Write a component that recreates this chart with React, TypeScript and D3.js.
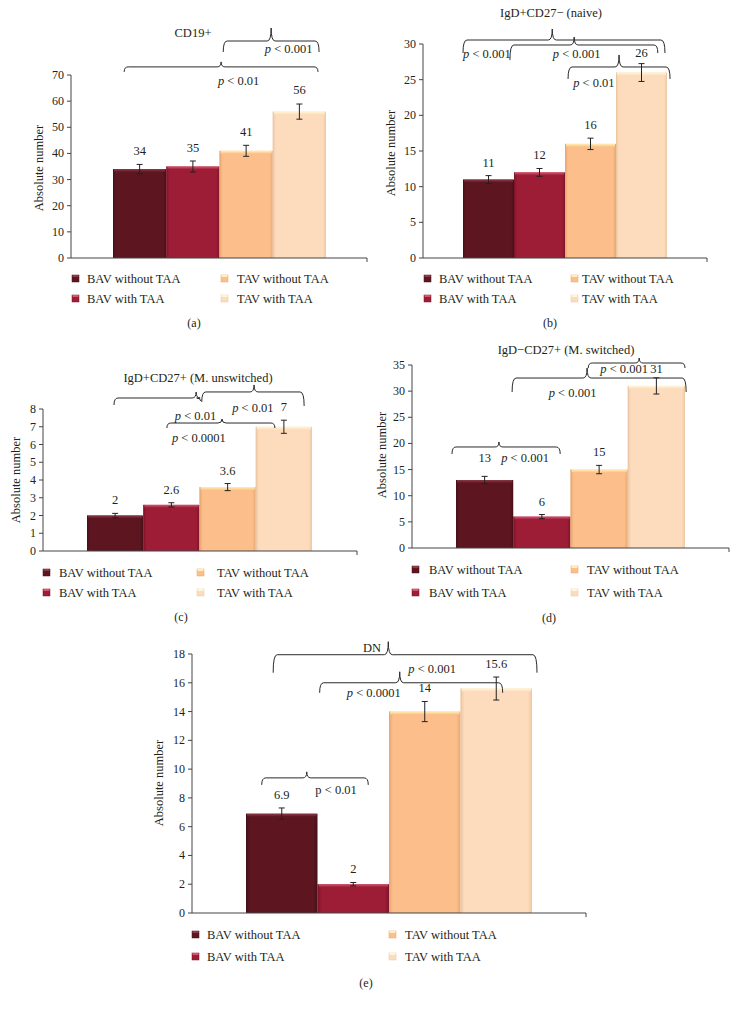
import React from "react";
import * as d3 from "d3";

// ---------- DATA ----------
const categories = ["BAV without TAA", "BAV with TAA", "TAV without TAA", "TAV with TAA"];

const cd19Values = [34, 35, 41, 56];
const cd19Errors = [1.8, 2.1, 2.1, 2.9];

const naiveValues = [11, 12, 16, 26];
const naiveErrors = [0.55, 0.55, 0.8, 1.25];

const unswitchedValues = [2, 2.6, 3.6, 7];
const unswitchedErrors = [0.12, 0.12, 0.2, 0.37];

const switchedValues = [13, 6, 15, 31];
const switchedErrors = [0.7, 0.4, 0.8, 1.55];

const dnValues = [6.9, 2, 14, 15.6];
const dnErrors = [0.4, 0.12, 0.7, 0.8];

const cd19Ticks = [0, 10, 20, 30, 40, 50, 60, 70];
const naiveTicks = [0, 5, 10, 15, 20, 25, 30];
const unswitchedTicks = [0, 1, 2, 3, 4, 5, 6, 7, 8];
const switchedTicks = [0, 5, 10, 15, 20, 25, 30, 35];
const dnTicks = [0, 2, 4, 6, 8, 10, 12, 14, 16, 18];

// ---------- STYLE ----------
const barColors = [
  { base: "#5d1620", edge: "#46101a", top: "#8c3a47" },
  { base: "#9d1c36", edge: "#7e1429", top: "#d4566f" },
  { base: "#fcbf8c", edge: "#e8a670", top: "#fff1b4" },
  { base: "#fddcbd", edge: "#ecc7a4", top: "#fff6d6" },
];
const FONT = "'Liberation Serif', 'Times New Roman', serif";
const INK = "#231f20";
const AXIS = "#444";

type Brace = { x0: number; x1: number; xm: number; y: number; dropL: number; dropR: number; rise: number };
type Note = { x: number; y: number; p: string; rest: string; italic?: boolean; anchor?: string };

const panels = [
  {
    id: "a", values: cd19Values, errors: cd19Errors, ticks: cd19Ticks,
    title: "CD19+", titleX: 193, titleY: 37,
    axisX: 71, axisRight: 367, y0: 258, yTop: 75, barLeft: 113, barRight: 326,
    labelDy: [0, 0, 0, -1],
    braces: [
      { x0: 0.21, x1: 3.85, xm: 2.03, y: 73.1, dropL: 5, dropR: 5, rise: 5 },
      { x0: 2.07, x1: 3.87, xm: 2.97, y: 83.0, dropL: 11, dropR: 11, rise: 13 },
    ] as Brace[],
    notes: [
      { x: 1.97, y: 66.2, p: "p", rest: " < 0.01", italic: true },
      { x: 2.85, y: 78.4, p: "p", rest: " < 0.001", italic: true },
    ] as Note[],
    yLabel: { x: 39, y: 168 },
    legend: { m1: 72, t1: 87, m2: 221, t2: 237, r1: 283, r2: 303 },
    caption: { text: "(a)", x: 194, y: 327 },
  },
  {
    id: "b", values: naiveValues, errors: naiveErrors, ticks: naiveTicks,
    title: "IgD+CD27− (naive)", titleX: 551, titleY: 17,
    axisX: 423, axisRight: 707, y0: 258, yTop: 44, barLeft: 463, barRight: 667,
    labelDy: [0, 0, 0, 2],
    braces: [
      { x0: 0.0, x1: 3.96, xm: 1.75, y: 30.56, dropL: 13, dropR: 13, rise: 11 },
      { x0: 0.92, x1: 3.82, xm: 2.18, y: 29.86, dropL: 15, dropR: 8, rise: 8 },
      { x0: 2.06, x1: 4.06, xm: 3.06, y: 26.78, dropL: 12, dropR: 12, rise: 12 },
    ] as Brace[],
    notes: [
      { x: 0.0, y: 28.04, p: "p", rest: " < 0.001", italic: true },
      { x: 1.76, y: 28.04, p: "p", rest: " < 0.001", italic: true },
      { x: 2.16, y: 23.97, p: "p", rest: " < 0.01", italic: true },
    ] as Note[],
    yLabel: { x: 391, y: 153 },
    legend: { m1: 424, t1: 439, m2: 571, t2: 582, r1: 283, r2: 303 },
    caption: { text: "(b)", x: 550, y: 327 },
  },
  {
    id: "c", values: unswitchedValues, errors: unswitchedErrors, ticks: unswitchedTicks,
    title: "IgD+CD27+ (M. unswitched)", titleX: 198, titleY: 382,
    axisX: 43, axisRight: 357, y0: 551, yTop: 409, barLeft: 87, barRight: 312,
    labelDy: [0, 0, 0, 0],
    braces: [
      { x0: 0.48, x1: 2.02, xm: 1.94, y: 8.62, dropL: 7, dropR: 3, rise: 6 },
      { x0: 2.04, x1: 3.86, xm: 2.97, y: 8.96, dropL: 10, dropR: 14, rise: 7 },
      { x0: 1.42, x1: 3.34, xm: 2.4, y: 7.21, dropL: 5, dropR: 5, rise: 4 },
    ] as Brace[],
    notes: [
      { x: 2.58, y: 7.83, p: "p", rest: " < 0.01", italic: true },
      { x: 1.56, y: 7.38, p: "p", rest: " < 0.01", italic: true },
      { x: 1.51, y: 6.14, p: "p", rest: " < 0.0001", italic: true },
    ] as Note[],
    yLabel: { x: 16, y: 480 },
    legend: { m1: 43, t1: 59, m2: 197, t2: 217, r1: 577, r2: 597 },
    caption: { text: "(c)", x: 181, y: 621 },
  },
  {
    id: "d", values: switchedValues, errors: switchedErrors, ticks: switchedTicks,
    title: "IgD−CD27+ (M. switched)", titleX: 566, titleY: 354,
    axisX: 412, axisRight: 729, y0: 548, yTop: 365, barLeft: 456, barRight: 685,
    labelDy: [-5, 0, 0, 4],
    braces: [
      { x0: 2.31, x1: 4.0, xm: 3.2, y: 35.38, dropL: 5, dropR: 5, rise: 5 },
      { x0: 0.98, x1: 4.02, xm: 2.29, y: 32.51, dropL: 14, dropR: 14, rise: 10 },
      { x0: -0.07, x1: 1.82, xm: 0.75, y: 19.32, dropL: 7, dropR: 7, rise: 5 },
    ] as Brace[],
    notes: [
      { x: 2.52, y: 33.47, p: "p", rest: " < 0.001", italic: true },
      { x: 1.62, y: 28.88, p: "p", rest: " < 0.001", italic: true },
      { x: 0.79, y: 16.45, p: "p", rest: " < 0.001", italic: true },
    ] as Note[],
    yLabel: { x: 382, y: 455 },
    legend: { m1: 412, t1: 429, m2: 571, t2: 587, r1: 574, r2: 597 },
    caption: { text: "(d)", x: 549, y: 622 },
  },
  {
    id: "e", values: dnValues, errors: dnErrors, ticks: dnTicks,
    title: "DN", titleX: 0, titleY: 0,
    axisX: 192, axisRight: 586, y0: 913, yTop: 654, barLeft: 246, barRight: 532,
    labelDy: [0, 0, 0, 0],
    braces: [
      { x0: 0.38, x1: 4.07, xm: 1.99, y: 17.95, dropL: 18, dropR: 18, rise: 13 },
      { x0: 1.03, x1: 3.59, xm: 2.15, y: 16.0, dropL: 10, dropR: 10, rise: 11 },
      { x0: 0.22, x1: 1.71, xm: 0.85, y: 9.39, dropL: 7, dropR: 7, rise: 6 },
    ] as Brace[],
    notes: [
      { x: 1.89, y: 18.16, p: "DN", rest: "", italic: false, anchor: "end" },
      { x: 2.27, y: 16.7, p: "p", rest: " < 0.001", italic: true },
      { x: 1.41, y: 15.03, p: "p", rest: " < 0.0001", italic: true },
      { x: 0.97, y: 8.28, p: "p", rest: " < 0.01", italic: false },
    ] as Note[],
    yLabel: { x: 159, y: 783 },
    legend: { m1: 192, t1: 207, m2: 389, t2: 405, r1: 939, r2: 961 },
    caption: { text: "(e)", x: 366, y: 987 },
  },
];

function bracePath(x0: number, x1: number, xm: number, y: number, dL: number, dR: number, rise: number) {
  const r = 4;
  return `M${x0},${y + dL} Q${x0},${y} ${x0 + r},${y} L${xm - r},${y} Q${xm},${y} ${xm},${y - rise} Q${xm},${y} ${xm + r},${y} L${x1 - r},${y} Q${x1},${y} ${x1},${y + dR}`;
}

function fmt(v: number) {
  return d3.format("~g")(v);
}

function Panel({ p }: { p: (typeof panels)[number] }) {
  const y = d3.scaleLinear().domain([0, p.ticks[p.ticks.length - 1]]).range([p.y0, p.yTop]);
  const x = d3.scaleLinear().domain([0, categories.length]).range([p.barLeft, p.barRight]);
  const bw = x(1) - x(0);
  return (
    <g>
      {/* bars */}
      {p.values.map((v, i) => {
        const x0 = x(i);
        const yt = y(v);
        const h = p.y0 - yt;
        return (
          <g key={"bar" + i}>
            <rect x={x0} y={yt} width={bw} height={h} fill={`url(#bg${i})`} />
            <rect x={x0 + 1} y={yt} width={bw - 2} height={Math.min(3, h)} fill={`url(#bt${i})`} />
            <line x1={x0 + 0.5} x2={x0 + 0.5} y1={yt} y2={p.y0} stroke={barColors[i].edge} strokeOpacity={0.6} />
          </g>
        );
      })}
      {/* error bars */}
      {p.values.map((v, i) => {
        const cx = x(i + 0.5);
        const hi = y(v + p.errors[i]);
        const lo = y(v - p.errors[i]);
        return (
          <g key={"err" + i} stroke="#222" strokeWidth={1}>
            <line x1={cx} x2={cx} y1={hi} y2={lo} />
            <line x1={cx - 3} x2={cx + 3} y1={hi} y2={hi} />
            <line x1={cx - 3} x2={cx + 3} y1={lo} y2={lo} />
          </g>
        );
      })}
      {/* value labels */}
      {p.values.map((v, i) => (
        <text key={"vl" + i} x={x(i + 0.5)} y={y(v + p.errors[i]) - 9 + p.labelDy[i]} textAnchor="middle"
          fontSize={12.5} fontFamily={FONT} fill={INK}>{fmt(v)}</text>
      ))}
      {/* y axis */}
      <line x1={p.axisX} x2={p.axisX} y1={p.y0} y2={p.yTop} stroke={AXIS} />
      {p.ticks.map((t) => (
        <g key={"t" + t}>
          <line x1={p.axisX - 4} x2={p.axisX} y1={y(t)} y2={y(t)} stroke={AXIS} />
          <text x={p.axisX - 7} y={y(t) + 4} textAnchor="end" fontSize={12} fontFamily={FONT} fill={INK}>{t}</text>
        </g>
      ))}
      {/* x axis */}
      <line x1={p.axisX} x2={p.axisRight} y1={p.y0} y2={p.y0} stroke={AXIS} />
      <line x1={p.axisRight} x2={p.axisRight} y1={p.y0} y2={p.y0 + 4} stroke={AXIS} />
      {/* y label */}
      <text transform={`translate(${p.yLabel.x},${p.yLabel.y}) rotate(-90)`} textAnchor="middle" dy="0.35em"
        fontSize={12.5} fontFamily={FONT} fill={INK}>Absolute number</text>
      {/* title */}
      {p.titleX > 0 && (
        <text x={p.titleX} y={p.titleY} textAnchor="middle" fontSize={12.5} fontFamily={FONT} fill={INK}>{p.title}</text>
      )}
      {/* braces */}
      {p.braces.map((b, k) => (
        <path key={"br" + k} d={bracePath(x(b.x0), x(b.x1), x(b.xm), y(b.y), b.dropL, b.dropR, b.rise)}
          fill="none" stroke="#2a2a2a" strokeWidth={1} />
      ))}
      {/* notes */}
      {p.notes.map((n, k) => (
        <text key={"n" + k} x={x(n.x)} y={y(n.y)} textAnchor={(n.anchor as any) || "start"} fontSize={12.5}
          fontFamily={FONT} fill={INK}>
          <tspan fontStyle={n.italic ? "italic" : "normal"}>{n.p}</tspan>
          {n.rest}
        </text>
      ))}
      {/* legend */}
      {categories.map((c, i) => {
        const mx = i < 2 ? p.legend.m1 : p.legend.m2;
        const tx = i < 2 ? p.legend.t1 : p.legend.t2;
        const ry = i % 2 === 0 ? p.legend.r1 : p.legend.r2;
        return (
          <g key={"lg" + i}>
            <rect x={mx} y={ry - 8} width={7} height={7} fill={barColors[i].base} stroke={barColors[i].edge} strokeWidth={0.5} />
            <rect x={mx + 0.5} y={ry - 8} width={6} height={2} fill={barColors[i].top} />
            <text x={tx} y={ry} fontSize={12.5} fontFamily={FONT} fill={INK}>{c}</text>
          </g>
        );
      })}
      {/* caption */}
      <text x={p.caption.x} y={p.caption.y} textAnchor="middle" fontSize={12} fontFamily={FONT} fill={INK}>{p.caption.text}</text>
    </g>
  );
}

export default function App() {
  return (
    <svg width={738} height={1009} viewBox="0 0 738 1009"
      style={{ position: "absolute", left: 0, top: 0, background: "#fff" }}>
      <defs>
        {barColors.map((c, i) => (
          <linearGradient key={"bg" + i} id={`bg${i}`} x1="0" x2="1" y1="0" y2="0">
            <stop offset="0" stopColor={c.edge} />
            <stop offset="0.06" stopColor={c.base} />
            <stop offset="0.94" stopColor={c.base} />
            <stop offset="1" stopColor={c.edge} />
          </linearGradient>
        ))}
        {barColors.map((c, i) => (
          <linearGradient key={"bt" + i} id={`bt${i}`} x1="0" x2="0" y1="0" y2="1">
            <stop offset="0" stopColor={c.top} />
            <stop offset="1" stopColor={c.base} />
          </linearGradient>
        ))}
      </defs>
      <rect x={0} y={0} width={738} height={1009} fill="#fff" />
      {panels.map((p) => (
        <Panel key={p.id} p={p} />
      ))}
    </svg>
  );
}
